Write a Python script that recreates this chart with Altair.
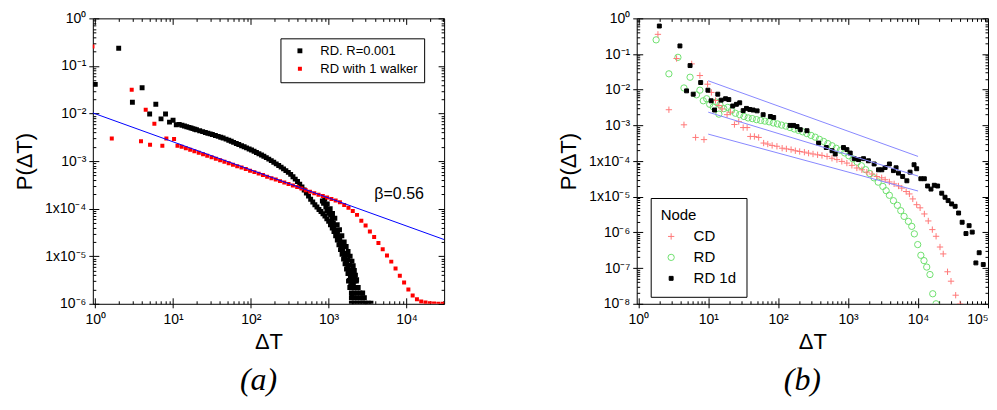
import altair as alt
import pandas as pd

# ---------------- panel (a) data ----------------
a_series = ["RD. R=0.001", "RD with 1 walker"]

a_black_x_early = [1, 2, 3, 4, 5, 6, 7, 8, 9, 10, 11, 12]
a_black_y_early = [0.041, 0.235, 0.0173, 0.0347, 0.0098, 0.0157, 0.0077, 0.0098, 0.0066, 0.0072, 0.0058, 0.0059]

a_black_x_curve = [13, 14, 15, 16, 17, 18, 19, 20, 22, 24, 26, 28, 30, 32, 35, 38, 41, 44, 48, 52, 56, 60,
                   65, 70, 76, 82, 88, 95, 102, 110, 118, 127, 137, 147, 158, 170, 183, 197, 212, 228, 245,
                   263, 282, 303, 325, 348, 372, 398, 425, 454, 485, 517, 551, 587, 625, 665, 707, 751, 797,
                   845, 895, 947, 1000, 1055, 1112, 1170, 1230, 1292, 1355, 1420, 1487, 1555, 1625, 1697,
                   1770, 1845, 1920, 2000]
a_black_y_curve = [5.66e-3, 5.46e-3, 5.27e-3, 5.1e-3, 4.95e-3, 4.81e-3, 4.68e-3, 4.57e-3, 4.35e-3, 4.17e-3,
                   4.0e-3, 3.86e-3, 3.73e-3, 3.61e-3, 3.45e-3, 3.31e-3, 3.18e-3, 3.05e-3, 2.89e-3, 2.75e-3,
                   2.61e-3, 2.48e-3, 2.35e-3, 2.23e-3, 2.10e-3, 2.0e-3, 1.9e-3, 1.8e-3, 1.71e-3, 1.61e-3,
                   1.52e-3, 1.43e-3, 1.34e-3, 1.26e-3, 1.18e-3, 1.10e-3, 1.02e-3, 9.46e-4, 8.73e-4, 8.05e-4,
                   7.45e-4, 6.85e-4, 6.3e-4, 5.79e-4, 5.25e-4, 4.67e-4, 4.17e-4, 3.72e-4, 3.27e-4, 2.85e-4,
                   2.46e-4, 2.13e-4, 1.83e-4, 1.58e-4, 1.38e-4, 1.21e-4, 1.08e-4, 9.6e-5, 8.7e-5, 7.8e-5,
                   7.0e-5, 6.1e-5, 5.4e-5, 4.6e-5, 3.9e-5, 3.3e-5, 2.7e-5, 2.2e-5, 1.74e-5, 1.38e-5, 1.1e-5,
                   8.7e-6, 6.9e-6, 5.4e-6, 4.3e-6, 3.1e-6, 2.4e-6, 1.4e-6]

a_black_x_band = [891, 960, 1047, 1122, 1202, 1288, 1380, 1479, 1585, 1680, 1778, 1890, 1995, 2070, 2140,
                  2210, 2290, 1060, 1150, 1330, 1420, 1510, 1600, 1700, 1800, 1900, 2000,
                  1100, 1180, 1250, 1300, 1390, 1460, 1540, 1560, 1650, 1660, 1750, 1760, 1850, 1860,
                  1950, 1960, 2050, 2080, 2150, 950, 1010, 920, 860, 830]
a_black_y_band = [1.58e-4, 1.26e-4, 1.0e-4, 7.9e-5, 6.3e-5, 4.6e-5, 3.6e-5, 2.7e-5, 2.0e-5, 1.6e-5,
                  1.26e-5, 1.0e-5, 7.9e-6, 6.3e-6, 5.0e-6, 4.0e-6, 3.2e-6, 7.5e-5, 5.0e-5, 2.5e-5, 1.8e-5,
                  1.3e-5, 9.5e-6, 7.0e-6, 5.2e-6, 3.8e-6, 2.9e-6,
                  6.2e-5, 4.2e-5, 3.5e-5, 3.0e-5, 2.2e-5, 1.55e-5, 1.6e-5, 1.15e-5, 1.05e-5, 8.2e-6,
                  8.5e-6, 6.0e-6, 6.5e-6, 4.5e-6, 5.0e-6, 3.3e-6, 4.2e-6, 2.6e-6, 3.6e-6, 9.0e-5, 8.0e-5,
                  1.1e-4, 1.3e-4, 1.45e-4]

a_black_x_tail = [1960, 2130, 2320, 2520, 2740, 2980, 3240, 3500,
                  1960, 2130, 2320, 2520, 2740, 2880,
                  1960, 2130, 2320, 2520, 2740,
                  1870, 2030, 2200, 2400,
                  1800, 1960, 2140, 2270]
a_black_y_tail = [1.03e-6, 1.03e-6, 1.03e-6, 1.03e-6, 1.03e-6, 1.03e-6, 1.03e-6, 1.03e-6,
                  1.34e-6, 1.34e-6, 1.34e-6, 1.34e-6, 1.34e-6, 1.34e-6,
                  1.7e-6, 1.7e-6, 1.7e-6, 1.7e-6, 1.7e-6,
                  2.2e-6, 2.2e-6, 2.2e-6, 2.2e-6,
                  3.0e-6, 3.0e-6, 3.0e-6, 3.0e-6]

a_red_x = [0.92, 1.63, 2.94, 3.87, 4.45, 5.06, 5.75, 7.28, 8.2, 10.3, 11.4,
           12.9, 14.6, 16.6, 18.8, 21.4, 24.3, 27.5, 31.3, 35.5, 40.3, 45.7, 51.9, 58.9, 66.8, 75.9, 86.1,
           97.7, 111, 126, 143, 162, 184, 209, 237, 269, 305, 347, 394, 447, 507, 575, 653, 741, 841, 955,
           1084, 1230, 1396, 1585, 1799, 2042, 2317, 2630, 2985, 3388, 3846, 4365, 4955, 5623, 6383, 7244,
           8222, 9333, 10593, 12023, 13646, 15488, 17579, 19953, 22646, 25704, 29174]
a_red_y = [0.255, 0.0030, 0.0316, 0.0026, 0.012, 0.0022, 0.0061, 0.0021, 0.0030, 0.0029, 0.0021,
           2.0e-3, 1.86e-3, 1.73e-3, 1.61e-3, 1.50e-3, 1.39e-3, 1.30e-3, 1.21e-3, 1.12e-3, 1.04e-3, 9.7e-4,
           9.0e-4, 8.4e-4, 7.8e-4, 7.3e-4, 6.8e-4, 6.3e-4, 5.86e-4, 5.45e-4, 5.07e-4, 4.71e-4, 4.38e-4,
           4.08e-4, 3.79e-4, 3.53e-4, 3.28e-4, 3.05e-4, 2.84e-4, 2.64e-4, 2.45e-4, 2.28e-4, 2.12e-4,
           1.97e-4, 1.84e-4, 1.71e-4, 1.59e-4, 1.48e-4, 1.37e-4, 1.2e-4, 1.04e-4, 8.9e-5, 7.4e-5, 5.6e-5,
           4.4e-5, 3.3e-5, 2.55e-5, 1.9e-5, 1.4e-5, 1.03e-5, 7.7e-6, 5.5e-6, 3.9e-6, 2.8e-6, 2.0e-6,
           1.5e-6, 1.25e-6, 1.12e-6, 1.06e-6, 1.03e-6, 1.01e-6, 1.0e-6, 1.0e-6]

a_fit_x = [0.93, 30500]
a_fit_y = [0.0103, 2.24e-5]

a_note_x = [3870]
a_note_y = [2.03e-4]
a_note_text = ["β=0.56"]

a_x_major = [1, 10, 100, 1000, 10000]
a_x_labels = ["10⁰", "10¹", "10²", "10³", "10⁴"]
a_y_major = [1, 0.1, 0.01, 0.001, 1e-4, 1e-5, 1e-6]
a_y_labels = ["10⁰", "10⁻¹", "10⁻²", "10⁻³", "1x10⁻⁴", "1x10⁻⁵", "10⁻⁶"]

# ---------------- panel (b) data ----------------
b_series = ["CD", "RD", "RD 1d"]

b_cd_x = [1.91, 2.74, 3.53, 4.5, 5.8, 6.6, 7.6, 8.7, 9.8, 11.1, 12.7, 14.2, 15.8, 18.6, 20.8, 23.7, 27.3,
          31.6, 36, 40, 45.7, 52.6, 62, 71, 82, 96, 114, 131, 153, 176, 203, 237, 272, 315, 366, 423, 500,
          588, 692, 813, 960, 1133, 1334, 1574, 1854, 2187, 2570, 3020, 3390, 3890, 4550, 5250, 5850, 6760,
          7520, 8410, 9550, 10700, 12300, 14000, 16000, 18100, 20600, 22900, 26400, 29600, 34500, 39800]
b_cd_y = [0.357, 2.75e-3, 0.075, 1.04e-3, 0.053, 4.6e-4, 0.025, 4.0e-4, 0.0143, 8.4e-3, 5.0e-3, 3.6e-3,
          2.9e-3, 2.0e-3, 2.35e-3, 1.06e-3, 1.28e-3, 8.7e-4, 8.7e-4, 4.9e-4, 4.9e-4, 4.6e-4, 3.2e-4, 3.0e-4,
          2.75e-4, 2.6e-4, 2.3e-4, 2.2e-4, 2.1e-4, 1.95e-4, 1.86e-4, 1.78e-4, 1.67e-4, 1.58e-4, 1.5e-4,
          1.44e-4, 1.35e-4, 1.2e-4, 1.1e-4, 9.8e-5, 8.8e-5, 7.6e-5, 6.4e-5, 5.7e-5, 4.9e-5, 4.35e-5, 3.7e-5,
          3.4e-5, 3.0e-5, 2.6e-5, 2.3e-5, 2.0e-5, 1.75e-5, 1.4e-5, 1.2e-5, 8.7e-6, 6.0e-6, 4.9e-6, 3.3e-6,
          2.1e-6, 1.2e-6, 7.8e-7, 3.9e-7, 2.5e-7, 7.9e-8, 4.3e-8, 1.74e-8, 1.0e-8]

b_rd_x = [1.8, 2.74, 3.69, 4.5, 5.5, 6.8, 7.6, 8.5, 9.5, 10.5, 11.8, 13.1, 14.2, 14.7, 16.7, 19, 21.5,
          24.5, 28.2, 32.4, 37.2, 42.7, 49, 56.2, 64.6, 74.1, 85.1, 97.7, 112, 129, 148, 170, 195, 224,
          257, 295, 339, 389, 447, 513, 589, 676, 776, 891, 1023, 1175, 1349, 1549, 1778, 2042, 2344,
          2692, 3141, 3499, 3890, 4446, 5070, 5662, 6310, 7278, 8128, 8851, 9886, 10965, 12162, 13305,
          14791, 16218, 18072]
b_rd_y = [0.25, 0.0279, 0.081, 0.0112, 0.0224, 7.2e-3, 9.7e-3, 4.9e-3, 5.6e-3, 3.9e-3, 3.3e-3, 4.5e-3,
          2.07e-3, 3.8e-3, 2.95e-3, 3.2e-3, 2.6e-3,
          2.19e-3, 2.0e-3, 1.78e-3, 1.62e-3, 1.55e-3, 1.45e-3, 1.38e-3, 1.32e-3, 1.26e-3, 1.17e-3, 1.10e-3,
          1.02e-3, 9.55e-4, 8.71e-4, 7.94e-4, 7.24e-4, 6.61e-4, 5.89e-4, 5.25e-4, 4.68e-4, 4.07e-4,
          3.55e-4, 3.09e-4, 2.69e-4, 2.29e-4, 2.0e-4, 1.70e-4, 1.41e-4, 1.15e-4, 9.33e-5, 7.41e-5,
          5.75e-5, 4.47e-5, 3.39e-5, 2.57e-5, 1.95e-5, 1.48e-5, 1.10e-5, 7.76e-6, 5.75e-6, 4.07e-6,
          2.82e-6, 2.04e-6, 1.48e-6, 9.12e-7, 4.57e-7, 2.29e-7, 1.62e-7, 1.07e-7, 6.61e-8, 1.91e-8, 1.0e-8]

b_rd1d_x = [2.0, 3.94, 4.9, 5.5, 6.1, 7.8, 9.9, 11.0, 12.3, 13.7, 15.3, 17.7, 19.7, 22.4, 25.3, 28.2, 31.6,
            35.2, 39.3, 43.8, 50, 61, 77.4, 86.3, 148, 166, 186, 207, 258, 378, 487, 589, 654, 859, 961,
            1072, 1222, 1409, 1660, 1950, 2356, 2716, 3034, 3381, 3893, 4446, 4850, 5248, 6026, 6918, 7690,
            8770, 9560, 10960, 12300, 13700, 15300, 17060, 19050, 21800, 24300, 26900, 30200, 33900, 38000,
            42700, 48400, 53700, 59500, 67100, 74800, 85500]
b_rd1d_y = [0.61, 0.169, 9.3e-3, 0.0475, 7.5e-3, 0.0159, 9.7e-3, 4.9e-3, 2.7e-3, 7.5e-3, 5.1e-3, 5.6e-3,
            5.3e-3, 3.5e-3, 3.9e-3, 4.3e-3, 2.6e-3, 3.0e-3, 2.8e-3, 2.7e-3, 2.56e-3, 2.0e-3, 1.78e-3,
            1.67e-3, 1.0e-3, 1.0e-3, 9.3e-4, 7.6e-4, 7.1e-4, 3.2e-4, 2.4e-4, 1.95e-4, 1.58e-4, 2.4e-4,
            2.1e-4, 1.68e-4, 1.17e-4, 1.1e-4, 1.17e-4, 1.02e-4, 8.3e-5, 5.7e-5, 5.7e-5, 6.6e-5, 8.3e-5,
            5.4e-5, 6.5e-5, 4.6e-5, 3.7e-5, 2.8e-5, 4.9e-5, 7.9e-5, 6.1e-5, 3.2e-5, 3.2e-5, 2.0e-5,
            1.64e-5, 2.1e-5, 2.0e-5, 1.26e-5, 9.7e-6, 7.8e-6, 6.3e-6, 5.4e-6, 3.5e-6, 1.93e-6, 9.3e-7,
            1.55e-6, 1.02e-6, 1.4e-7, 2.7e-7, 1.26e-7]

b_fit_id = ["upper", "upper", "middle", "middle", "lower", "lower"]
b_fit_x = [10, 10000, 10, 10000, 10, 10000]
b_fit_y = [0.0178, 1.35e-4, 2.35e-3, 3.8e-5, 5.7e-4, 1.45e-5]

b_x_major = [1, 10, 100, 1000, 10000, 100000]
b_x_labels = ["10⁰", "10¹", "10²", "10³", "10⁴", "10⁵"]
b_y_major = [1, 0.1, 0.01, 0.001, 1e-4, 1e-5, 1e-6, 1e-7, 1e-8]
b_y_labels = ["10⁰", "10⁻¹", "10⁻²", "10⁻³", "1x10⁻⁴", "1x10⁻⁵", "10⁻⁶", "10⁻⁷", "10⁻⁸"]

# ---------------- styling helpers ----------------
F = "Liberation Sans"
W, H = 352, 286
MAJOR_TEST = "abs(log(datum.value)/LN10 - round(log(datum.value)/LN10)) < 0.01"


def log_ticks(e_lo, e_hi, lo, hi):
    vals = []
    for e in range(e_lo, e_hi + 1):
        for m in range(1, 10):
            v = m * 10.0 ** e
            if lo * 0.9999 <= v <= hi * 1.0001:
                vals.append(v)
    return vals


def label_expr(labels, sign):
    arr = "[" + ",".join("'" + s + "'" for s in labels) + "]"
    return arr + "[round(" + sign + "log(datum.value)/LN10)]"


def main_axis(orient, values, labels, sign, title, title_size, title_pad, flush=False):
    return alt.Axis(orient=orient, values=values, labelExpr=label_expr(labels, sign), title=title,
                    tickSize=4, tickColor="black", tickWidth=1, domain=False, grid=False,
                    labelFont=F, labelFontSize=14, labelColor="black", labelOverlap=False,
                    labelFlush=flush, labelPadding=5 if orient == "bottom" else 3,
                    titleFont=F, titleFontSize=title_size, titleFontWeight="normal",
                    titleColor="black", titlePadding=title_pad)


def inner_axis(orient, offset, values):
    return alt.Axis(orient=orient, offset=offset, values=values, labels=False, title="",
                    domain=False, grid=False, tickColor="black", tickWidth=1,
                    tickSize={"condition": {"test": MAJOR_TEST, "value": 6}, "value": 3})


def panel_title(txt):
    return alt.TitleParams(txt, orient="bottom", anchor="middle", frame="group", font="Liberation Serif",
                           fontStyle="italic", fontWeight="normal", fontSize=32, color="black",
                           offset=12, dx=-10)


# ---------------- panel (a) ----------------
a_xs = alt.Scale(type="log", domain=[0.93, 30500], nice=False)
a_ys = alt.Scale(type="log", domain=[1e-6, 1], nice=False)
a_x_minor = log_ticks(0, 4, 0.93, 30500)
a_y_minor = log_ticks(-6, 0, 1e-6, 1)

a_black_x = a_black_x_early + a_black_x_curve + a_black_x_band + a_black_x_tail
a_black_y = a_black_y_early + a_black_y_curve + a_black_y_band + a_black_y_tail
dfa = pd.DataFrame({
    "x": a_black_x + a_red_x,
    "y": a_black_y + a_red_y,
    "s": [a_series[0]] * len(a_black_x) + [a_series[1]] * len(a_red_x),
})
dfa_fit = pd.DataFrame({"x": a_fit_x, "y": a_fit_y})
dfa_note = pd.DataFrame({"x": a_note_x, "y": a_note_y, "t": a_note_text})

leg_a = alt.Legend(title=None, orient="none", legendX=188, legendY=20, strokeColor="black",
                   fillColor="white", padding=6, labelFont=F, labelFontSize=13, labelColor="black",
                   symbolSize=22, symbolOffset=7, labelOffset=14, rowPadding=4, symbolStrokeWidth=0)

pts_a = alt.Chart(dfa).mark_square(opacity=1, clip=True).encode(
    x=alt.X("x:Q", scale=a_xs, axis=main_axis("bottom", a_x_major, a_x_labels, "", "ΔT", 22, 5)),
    y=alt.Y("y:Q", scale=a_ys, axis=main_axis("left", a_y_major, a_y_labels, "-", "P(ΔT)", 22, 8)),
    color=alt.Color("s:N", scale=alt.Scale(domain=a_series, range=["#000000", "#ff0000"]), legend=leg_a),
    size=alt.Size("s:N", scale=alt.Scale(domain=a_series, range=[24, 16]), legend=None),
)
line_a = alt.Chart(dfa_fit).mark_line(color="#0000ff", strokeWidth=1, clip=True).encode(
    x=alt.X("x:Q", scale=a_xs, axis=inner_axis("top", -H, a_x_minor)),
    y=alt.Y("y:Q", scale=a_ys, axis=inner_axis("right", -W, a_y_minor)),
)
note_a = alt.Chart(dfa_note).mark_text(align="left", baseline="middle", font=F, fontSize=16,
                                       color="black").encode(
    x=alt.X("x:Q", scale=a_xs, axis=inner_axis("bottom", -H, a_x_minor)),
    y=alt.Y("y:Q", scale=a_ys, axis=inner_axis("left", -W, a_y_minor)),
    text="t:N",
)
panel_a = alt.layer(pts_a, line_a, note_a).resolve_axis(x="independent", y="independent").properties(
    width=W, height=H, title=panel_title("(a)"))

# ---------------- panel (b) ----------------
b_xs = alt.Scale(type="log", domain=[0.95, 100000], nice=False)
b_ys = alt.Scale(type="log", domain=[1e-8, 1], nice=False)
b_x_minor = log_ticks(0, 5, 0.95, 100000)
b_y_minor = log_ticks(-8, 0, 1e-8, 1)

dfb = pd.DataFrame({
    "x": b_rd_x + b_cd_x + b_rd1d_x,
    "y": b_rd_y + b_cd_y + b_rd1d_y,
    "s": ["RD"] * len(b_rd_x) + ["CD"] * len(b_cd_x) + ["RD 1d"] * len(b_rd1d_x),
})
dfb_fit = pd.DataFrame({"x": b_fit_x, "y": b_fit_y, "id": b_fit_id})

PLUS = "M-1,0H1M0,-1V1"
SQUARE = "M-0.62,-0.62H0.62V0.62H-0.62Z"
leg_b = alt.Legend(title="Node", orient="none", legendX=14, legendY=180, strokeColor="black",
                   fillColor="white", padding=10, titleFont=F, titleFontSize=15, titleFontWeight="normal",
                   titleColor="black", labelFont=F, labelFontSize=15, labelColor="black", symbolSize=40,
                   symbolStrokeWidth=1, symbolOffset=3, labelOffset=15, rowPadding=5, titlePadding=6)

pts_b = alt.Chart(dfb).mark_point(size=40, strokeWidth=1, opacity=1, clip=True).encode(
    x=alt.X("x:Q", scale=b_xs, axis=main_axis("bottom", b_x_major, b_x_labels, "", "ΔT", 22, 5, flush=1)),
    y=alt.Y("y:Q", scale=b_ys, axis=main_axis("left", b_y_major, b_y_labels, "-", "P(ΔT)", 22, 8)),
    shape=alt.Shape("s:N", scale=alt.Scale(domain=b_series, range=[PLUS, "circle", SQUARE]), legend=leg_b),
    stroke=alt.Stroke("s:N", scale=alt.Scale(domain=b_series, range=["#ff7878", "#6fe06f", "#000000"]),
                      legend=leg_b),
    fill=alt.Fill("s:N", scale=alt.Scale(domain=b_series, range=["transparent", "transparent", "#000000"]),
                  legend=leg_b),
)
line_b = alt.Chart(dfb_fit).mark_line(color="#8888ff", strokeWidth=1, clip=True).encode(
    x=alt.X("x:Q", scale=b_xs, axis=inner_axis("top", -H, b_x_minor)),
    y=alt.Y("y:Q", scale=b_ys, axis=inner_axis("right", -W, b_y_minor)),
    detail="id:N",
)
ghost_b = alt.Chart(dfb_fit).mark_line(opacity=0, clip=True).encode(
    x=alt.X("x:Q", scale=b_xs, axis=inner_axis("bottom", -H, b_x_minor)),
    y=alt.Y("y:Q", scale=b_ys, axis=inner_axis("left", -W, b_y_minor)),
    detail="id:N",
)
panel_b = alt.layer(pts_b, line_b, ghost_b).resolve_axis(x="independent", y="independent").properties(
    width=W, height=H, title=panel_title("(b)"))

chart = alt.hconcat(panel_a, panel_b, spacing=193, bounds="flush").resolve_scale(
    color="independent", fill="independent", stroke="independent", shape="independent",
    size="independent"
).properties(
    padding={"left": 5, "top": 2, "right": 0, "bottom": 0}
).configure_view(stroke="black", strokeWidth=1)

chart.save("out.html", embed_options={"renderer": "svg", "actions": False})
